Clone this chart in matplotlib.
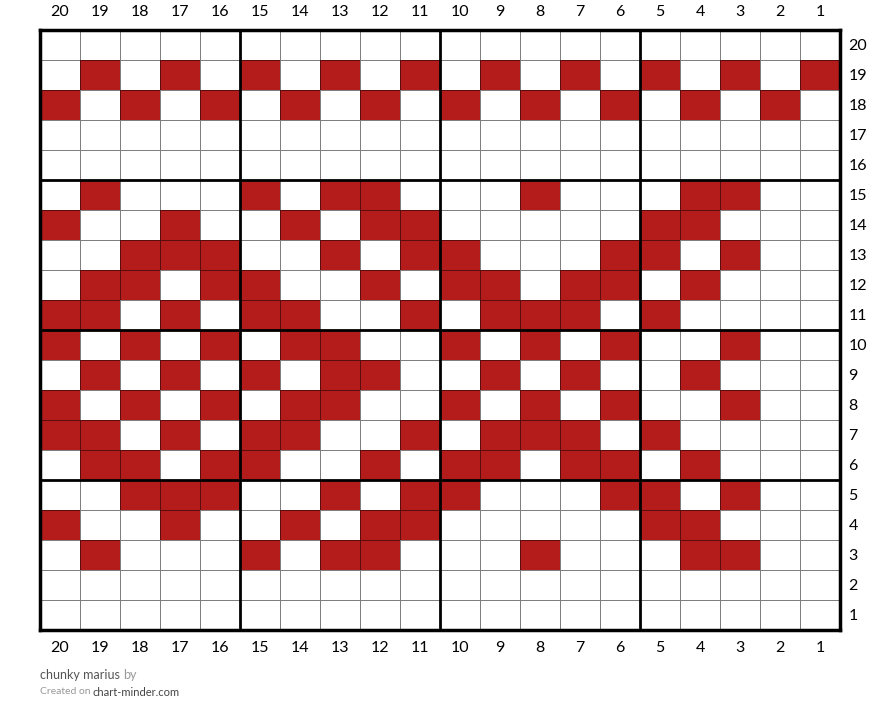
import numpy as np
import matplotlib
matplotlib.use("Agg")
import matplotlib.pyplot as plt
from matplotlib.colors import ListedColormap

plt.rcParams['font.family'] = ['Lato', 'DejaVu Sans']

# Chart rows, top (row 20) to bottom (row 1); columns left (20) to right (1). X = red stitch
row_labels = list(range(20, 0, -1))
col_labels = list(range(20, 0, -1))
pattern = [
    "....................",  # 20
    ".X.X.X.X.X.X.X.X.X.X",  # 19
    "X.X.X.X.X.X.X.X.X.X.",  # 18
    "....................",  # 17
    "....................",  # 16
    ".X...X.XX...X...XX..",  # 15
    "X..X..X.XX.....XX...",  # 14
    "..XXX..X.XX...XX.X..",  # 13
    ".XX.XX..X.XX.XX.X...",  # 12
    "XX.X.XX..X.XXX.X....",  # 11
    "X.X.X.XX..X.X.X..X..",  # 10
    ".X.X.X.XX..X.X..X...",  # 9
    "X.X.X.XX..X.X.X..X..",  # 8
    "XX.X.XX..X.XXX.X....",  # 7
    ".XX.XX..X.XX.XX.X...",  # 6
    "..XXX..X.XX...XX.X..",  # 5
    "X..X..X.XX.....XX...",  # 4
    ".X...X.XX...X...XX..",  # 3
    "....................",  # 2
    "....................",  # 1
]
title_text = "chunky marius"
site_text = "chart-minder.com"

grid = np.array([[1 if c == "X" else 0 for c in r] for r in pattern])
nrows, ncols = grid.shape

fig = plt.figure(figsize=(8.8, 7.23), dpi=100)
ax = fig.add_axes([40/880, (723-630)/723, 800/880, 600/723])

ax.pcolormesh(np.arange(ncols+1), np.arange(nrows+1), grid,
              cmap=ListedColormap(['white', '#b41c1c']), vmin=0, vmax=1,
              edgecolors=(0, 0, 0, 0.5), linewidth=0.6)

ax.set_xlim(0, ncols)
ax.set_ylim(nrows, 0)

for k in range(5, ncols, 5):
    ax.axvline(k, color='black', lw=2)
for k in range(5, nrows, 5):
    ax.axhline(k, color='black', lw=2)
for s in ax.spines.values():
    s.set_linewidth(2.5)
    s.set_color('black')

ax.set_xticks(np.arange(ncols) + 0.5)
ax.set_xticklabels([str(c) for c in col_labels])
ax.set_yticks(np.arange(nrows) + 0.5)
ax.set_yticklabels([str(r) for r in row_labels])
ax.tick_params(axis='x', top=True, labeltop=True, bottom=True, labelbottom=True,
               length=0, pad=8, labelsize=11.5)
ax.tick_params(axis='y', left=False, labelleft=False, right=True, labelright=True,
               length=0, pad=6, labelsize=11.5)

t1 = fig.text(40/880, 1 - 675/723, title_text, fontsize=9, color='#555555', va='center')
fig.canvas.draw()
bb = t1.get_window_extent()
fig.text(bb.x1/880 + 3/880, 1 - 675/723, "by", fontsize=9, color='#999999', va='center')

t2 = fig.text(40/880, 1 - 692/723, "Created on", fontsize=7.5, color='#999999', va='center')
fig.canvas.draw()
bb2 = t2.get_window_extent()
fig.text(bb2.x1/880 + 2/880, 1 - 692/723, site_text, fontsize=8, color='#444444', va='center')

fig.savefig("out.png", dpi=100)
